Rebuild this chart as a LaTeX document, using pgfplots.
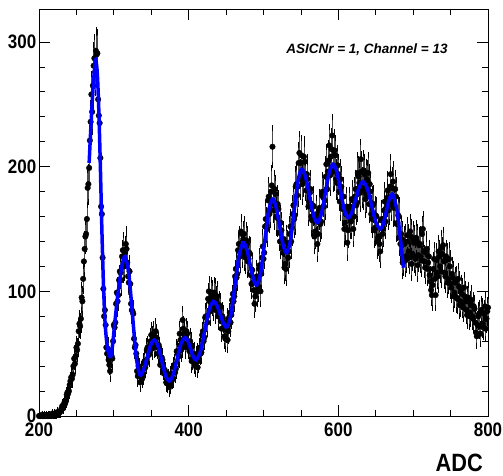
\documentclass[border=0pt]{standalone}
\usepackage{fontspec}
\setmainfont{Liberation Sans}
\newfontfamily\tickfont{Liberation Sans}[FakeStretch=0.87]
\usepackage{pgfplots}
\pgfplotsset{compat=1.18}
\pgfplotsset{rootpts/.style={only marks, mark=*, mark size=2.8bp, black,
  error bars/.cd, y dir=both, y explicit,
  error bar style={line width=0.6bp, black!70},
  error mark options={line width=0.6bp, mark size=3bp, black}}}
\begin{document}
\begin{tikzpicture}
\begin{axis}[
 set layers,
 at={(0,0)}, anchor=south west,
 scale only axis, width=449bp, height=407bp,
 xmin=200, xmax=800, ymin=0, ymax=326.5,
 xtick={200,400,600,800}, minor x tick num=3,
 ytick={0,100,200,300}, minor y tick num=4,
 tick align=inside,
 major tick length=11bp, minor tick length=6bp,
 axis line style={line width=0.8bp},
 tick style={line width=0.8bp, black},
 /pgf/number format/assume math mode=true,
 ticklabel style={font=\tickfont\bfseries\fontsize{19.5bp}{20bp}\selectfont},
 xticklabel style={anchor=north, inner sep=0pt, yshift=-7bp},
 yticklabel style={anchor=east, inner sep=0pt, xshift=-2.5bp},
 clip=false,
]
\addplot[rootpts] table[x=x, y=y, y error=e, row sep=\\] {
x y e\\
200 0 0\\ 202 0 0\\ 204 1 1\\ 206 0 0\\ 208 0 0\\ 210 1 1\\ 212 0 0\\ 214 1 1\\ 216 0 0\\ 218 2 1\\
220 1 1\\ 222 1 1\\ 224 3 2\\ 226 2 1\\ 228 3 2\\ 230 6 2\\ 232 6 2\\ 234 11 3\\ 236 12 3\\ 238 19 4\\
240 20 4\\ 242 28 5\\ 244 30 5\\ 246 40 6\\ 248 42 6\\ 250 55 7\\ 252 58 8\\ 254 74 9\\ 256 78 9\\ 258 92 10\\
260 124 11\\ 262 144 12\\ 264 158 13\\ 266 186 14\\ 268 221 15\\ 270 258 16\\ 272 265 16\\ 274 287 17\\ 276 293 17\\ 278 291 17\\
280 241 16\\ 282 207 14\\ 284 162 13\\ 286 102 10\\ 288 85 9\\ 290 55 7\\ 292 54 7\\ 294 41 6\\ 296 51 7\\ 298 46 7\\
300 73 9\\ 302 75 9\\ 304 99 10\\ 306 97 10\\ 308 116 11\\ 310 109 10\\ 312 133 12\\ 314 122 11\\ 316 138 12\\ 318 123 11\\
320 107 10\\ 322 106 10\\ 324 85 9\\ 326 82 9\\ 328 55 7\\ 330 50 7\\ 332 32 6\\ 334 38 6\\ 336 31 6\\ 338 30 5\\
340 42 6\\ 342 39 6\\ 344 53 7\\ 346 51 7\\ 348 51 7\\ 350 65 8\\ 352 62 8\\ 354 56 7\\ 356 68 8\\ 358 55 7\\
360 57 8\\ 362 41 6\\ 364 47 7\\ 366 37 6\\ 368 37 6\\ 370 27 5\\ 372 27 5\\ 374 23 5\\ 376 32 6\\ 378 29 5\\
380 39 6\\ 382 35 6\\ 384 52 7\\ 386 49 7\\ 388 66 8\\ 390 53 7\\ 392 77 9\\ 394 65 8\\ 396 55 7\\ 398 66 8\\
400 55 7\\ 402 60 8\\ 404 44 7\\ 406 49 7\\ 408 42 6\\ 410 47 7\\ 412 39 6\\ 414 53 7\\ 416 50 7\\ 418 65 8\\
420 60 8\\ 422 79 9\\ 424 79 9\\ 426 94 10\\ 428 92 10\\ 430 99 10\\ 432 93 10\\ 434 99 10\\ 436 85 9\\ 438 96 10\\
440 83 9\\ 442 87 9\\ 444 70 8\\ 446 78 9\\ 448 64 8\\ 450 69 8\\ 452 61 8\\ 454 79 9\\ 456 75 9\\ 458 93 10\\
460 92 10\\ 462 112 11\\ 464 111 11\\ 466 133 12\\ 468 132 11\\ 470 148 12\\ 472 133 12\\ 474 146 12\\ 476 127 11\\ 478 138 12\\
480 126 11\\ 482 130 11\\ 484 106 10\\ 486 107 10\\ 488 90 9\\ 490 110 10\\ 492 100 10\\ 494 118 11\\ 496 100 10\\ 498 127 11\\
500 126 11\\ 502 152 12\\ 504 153 12\\ 506 173 13\\ 508 162 13\\ 510 180 13\\ 512 216 15\\ 514 165 13\\ 516 178 13\\ 518 159 13\\
520 166 13\\ 522 140 12\\ 524 149 12\\ 526 131 11\\ 528 119 11\\ 530 118 11\\ 532 135 12\\ 534 132 11\\ 536 152 12\\ 538 151 12\\
540 169 13\\ 542 161 13\\ 544 186 14\\ 546 184 14\\ 548 211 15\\ 550 203 14\\ 552 186 14\\ 554 208 14\\ 556 189 14\\ 558 194 14\\
560 168 13\\ 562 179 13\\ 564 160 13\\ 566 169 13\\ 568 144 12\\ 570 158 13\\ 572 138 12\\ 574 165 13\\ 576 154 12\\ 578 177 13\\
580 175 13\\ 582 173 13\\ 584 202 14\\ 586 196 14\\ 588 217 15\\ 590 208 14\\ 592 225 15\\ 594 197 14\\ 596 209 14\\ 598 187 14\\
600 194 14\\ 602 172 13\\ 604 184 14\\ 606 166 13\\ 608 150 12\\ 610 164 13\\ 612 139 12\\ 614 165 13\\ 616 157 13\\ 618 174 13\\
620 150 12\\ 622 176 13\\ 624 169 13\\ 626 195 14\\ 628 187 14\\ 630 206 14\\ 632 183 14\\ 634 197 14\\ 636 174 13\\ 638 190 14\\
640 195 14\\ 642 186 14\\ 644 162 13\\ 646 169 13\\ 648 149 12\\ 650 161 13\\ 652 140 12\\ 654 144 12\\ 656 132 11\\ 658 158 13\\
660 150 12\\ 662 172 13\\ 664 167 13\\ 666 181 13\\ 668 169 13\\ 670 194 14\\ 672 183 14\\ 674 167 13\\ 676 182 13\\ 678 154 12\\
680 161 13\\ 682 143 12\\ 684 146 12\\ 686 123 11\\ 688 138 12\\ 690 125 11\\ 692 145 12\\ 694 132 11\\ 696 148 12\\ 698 122 11\\
700 142 12\\ 702 128 11\\ 704 143 12\\ 706 121 11\\ 708 137 12\\ 710 128 11\\ 712 146 12\\ 714 132 11\\ 716 119 11\\ 718 134 12\\
720 123 11\\ 722 113 11\\ 724 101 10\\ 726 105 10\\ 728 126 11\\ 730 97 10\\ 732 115 11\\ 734 132 11\\ 736 120 11\\ 738 135 12\\
740 137 12\\ 742 115 11\\ 744 128 11\\ 746 107 10\\ 748 126 11\\ 750 106 10\\ 752 114 11\\ 754 96 10\\ 756 107 10\\ 758 95 10\\
760 110 10\\ 762 89 9\\ 764 101 10\\ 766 90 9\\ 768 103 10\\ 770 92 10\\ 772 81 9\\ 774 95 10\\ 776 83 9\\ 778 93 10\\
780 78 9\\ 782 86 9\\ 784 67 8\\ 786 73 9\\ 788 82 9\\ 790 66 8\\ 792 83 9\\ 794 71 8\\ 796 88 9\\ 798 78 9\\
800 87 9\\
};
\addplot[rootpts] table[x=x, y=y, y error=e, row sep=\\] {
x y e\\
201 0 0\\ 203 0 0\\ 205 0 0\\ 207 1 1\\ 209 0 0\\ 211 0 0\\ 213 1 1\\ 215 0 0\\ 217 1 1\\ 219 0 0\\
221 2 1\\ 223 1 1\\ 225 2 1\\ 227 3 2\\ 229 4 2\\ 231 8 3\\ 233 9 3\\ 235 10 3\\ 237 17 4\\ 239 18 4\\
241 25 5\\ 243 31 6\\ 245 33 6\\ 247 46 7\\ 249 48 7\\ 251 53 7\\ 253 68 8\\ 255 72 8\\ 257 95 10\\ 259 110 10\\
261 134 12\\ 263 146 12\\ 265 183 14\\ 267 199 14\\ 269 236 15\\ 271 244 16\\ 273 281 17\\ 275 276 17\\ 277 290 17\\ 279 254 16\\
281 235 15\\ 283 168 13\\ 285 127 11\\ 287 80 9\\ 289 73 9\\ 291 50 7\\ 293 45 7\\ 295 36 6\\ 297 48 7\\ 299 60 8\\
301 71 8\\ 303 90 9\\ 305 92 10\\ 307 109 10\\ 309 115 11\\ 311 128 11\\ 313 120 11\\ 315 131 11\\ 317 134 12\\ 319 112 11\\
321 116 11\\ 323 90 9\\ 325 84 9\\ 327 62 8\\ 329 57 8\\ 331 36 6\\ 333 40 6\\ 335 27 5\\ 337 36 6\\ 339 33 6\\
341 44 7\\ 343 42 6\\ 345 55 7\\ 347 49 7\\ 349 60 8\\ 351 54 7\\ 353 66 8\\ 355 58 8\\ 357 63 8\\ 359 50 7\\
361 54 7\\ 363 43 7\\ 365 45 7\\ 367 34 6\\ 369 35 6\\ 371 26 5\\ 373 30 5\\ 375 25 5\\ 377 34 6\\ 379 30 5\\
381 41 6\\ 383 38 6\\ 385 51 7\\ 387 48 7\\ 389 61 8\\ 391 57 8\\ 393 70 8\\ 395 58 8\\ 397 68 8\\ 399 57 8\\
401 52 7\\ 403 57 8\\ 405 46 7\\ 407 50 7\\ 409 40 6\\ 411 49 7\\ 413 44 7\\ 415 55 7\\ 417 51 7\\ 419 68 8\\
421 63 8\\ 423 80 9\\ 425 75 9\\ 427 100 10\\ 429 84 9\\ 431 97 10\\ 433 88 9\\ 435 98 10\\ 437 92 10\\ 439 80 9\\
441 89 9\\ 443 76 9\\ 445 80 9\\ 447 70 8\\ 449 62 8\\ 451 75 9\\ 453 68 8\\ 455 83 9\\ 457 81 9\\ 459 98 10\\
461 96 10\\ 463 118 11\\ 465 114 11\\ 467 138 12\\ 469 128 11\\ 471 146 12\\ 473 142 12\\ 475 130 11\\ 477 141 12\\ 479 124 11\\
481 131 11\\ 483 113 11\\ 485 117 11\\ 487 101 10\\ 489 96 10\\ 491 112 11\\ 493 104 10\\ 495 121 11\\ 497 114 11\\ 499 136 12\\
501 131 11\\ 503 158 13\\ 505 150 12\\ 507 176 13\\ 509 166 13\\ 511 185 14\\ 513 170 13\\ 515 182 13\\ 517 160 13\\ 519 170 13\\
521 147 12\\ 523 155 12\\ 525 135 12\\ 527 142 12\\ 529 122 11\\ 531 139 12\\ 533 127 11\\ 535 146 12\\ 537 140 12\\ 539 162 13\\
541 158 13\\ 543 184 14\\ 545 177 13\\ 547 203 14\\ 549 190 14\\ 551 209 14\\ 553 192 14\\ 555 204 14\\ 557 181 13\\ 559 190 14\\
561 172 13\\ 563 182 13\\ 565 157 13\\ 567 168 13\\ 569 148 12\\ 571 162 13\\ 573 146 12\\ 575 167 13\\ 577 156 12\\ 579 180 13\\
581 168 13\\ 583 192 14\\ 585 182 13\\ 587 205 14\\ 589 193 14\\ 591 214 15\\ 593 196 14\\ 595 213 15\\ 597 190 14\\ 599 201 14\\
601 180 13\\ 603 190 14\\ 605 168 13\\ 607 176 13\\ 609 155 12\\ 611 168 13\\ 613 149 12\\ 615 168 13\\ 617 156 12\\ 619 173 13\\
621 160 13\\ 623 182 13\\ 625 171 13\\ 627 192 14\\ 629 179 13\\ 631 196 14\\ 633 181 13\\ 635 194 14\\ 637 178 13\\ 639 189 14\\
641 170 13\\ 643 180 13\\ 645 158 13\\ 647 170 13\\ 649 151 12\\ 651 160 13\\ 653 143 12\\ 655 138 12\\ 657 157 13\\ 659 146 12\\
661 165 13\\ 663 156 12\\ 665 175 13\\ 667 165 13\\ 669 184 14\\ 671 172 13\\ 673 188 14\\ 675 168 13\\ 677 176 13\\ 679 155 12\\
681 160 13\\ 683 138 12\\ 685 142 12\\ 687 126 11\\ 689 140 12\\ 691 128 11\\ 693 140 12\\ 695 127 11\\ 697 144 12\\ 699 130 11\\
701 139 12\\ 703 126 11\\ 705 140 12\\ 707 129 11\\ 709 138 12\\ 711 125 11\\ 713 150 12\\ 715 124 11\\ 717 131 11\\ 719 118 11\\
721 128 11\\ 723 108 10\\ 725 97 10\\ 727 118 11\\ 729 110 10\\ 731 125 11\\ 733 112 11\\ 735 128 11\\ 737 116 11\\ 739 130 11\\
741 124 11\\ 743 112 11\\ 745 125 11\\ 747 110 10\\ 749 120 11\\ 751 103 10\\ 753 111 11\\ 755 99 10\\ 757 108 10\\ 759 94 10\\
761 104 10\\ 763 92 10\\ 765 98 10\\ 767 87 9\\ 769 96 10\\ 771 85 9\\ 773 92 10\\ 775 80 9\\ 777 89 9\\ 779 80 9\\
781 88 9\\ 783 75 9\\ 785 64 8\\ 787 80 9\\ 789 72 8\\ 791 85 9\\ 793 74 9\\ 795 82 9\\ 797 70 8\\ 799 84 9\\
};
\addplot[blue, line width=3.5bp, smooth, on layer=axis foreground] coordinates {
(267,203) (269,228) (271,251) (273,270) (275,283) (276,286) (278,274) (280,244) (282,200) (284,150)
(286,108) (288,78) (290,62) (292,53) (294,49) (296,47.7) (298.5,58) (301.5,76) (304.5,93) (307.5,107)
(311,121) (315,128) (320,114) (325,80.5) (330,47) (335,33) (339.75,37) (344.5,47) (349.25,57) (354,61)
(359,56.2) (364,44.5) (369,32.8) (374,28) (379.25,33.1) (384.5,45.5) (389.75,57.9) (395,63) (398.75,60.4)
(402.5,54) (406.25,47.6) (410,45) (415.75,51.9) (421.5,68.5) (427.25,85.1) (433,92) (437.5,89) (442,81.75)
(446.5,74.5) (451,71.5) (456.5,81.4) (462,105.25) (467.5,129.1) (473,139) (477.5,134) (482,122) (486.5,110)
(491,105) (496.25,115.1) (501.5,139.5) (506.75,163.9) (512,174) (516.75,167.7) (521.5,152.5) (526.25,137.3)
(531,131) (536,140.8) (541,164.5) (546,188.2) (551,198) (556.25,191.7) (561.5,176.5) (566.75,161.3) (572,155)
(577.25,161.9) (582.5,178.5) (587.75,195.1) (593,202) (598,195.7) (603,180.5) (608,165.3) (613,159)
(618,163.2) (623,173.5) (628,183.8) (633,188) (638.75,182.5) (644.5,169) (650.25,155.5) (656,150)
(660,154.1) (664,164) (668,173.9) (672,178) (676,172) (680,158) (684,136) (687,119)
};
\end{axis}
\node[font=\tickfont\bfseries\fontsize{25bp}{26bp}\selectfont, anchor=base east, inner sep=0pt] at (444bp,-55.5bp) {ADC};
\node[font=\bfseries\itshape\fontsize{13.5bp}{14bp}\selectfont, anchor=base, inner sep=0pt] at (328bp,362.7bp) {ASICNr = 1, Channel = 13};
\pgfresetboundingbox
\path[use as bounding box] (-39bp,-60bp) rectangle (464bp,416bp);
\end{tikzpicture}
\end{document}
